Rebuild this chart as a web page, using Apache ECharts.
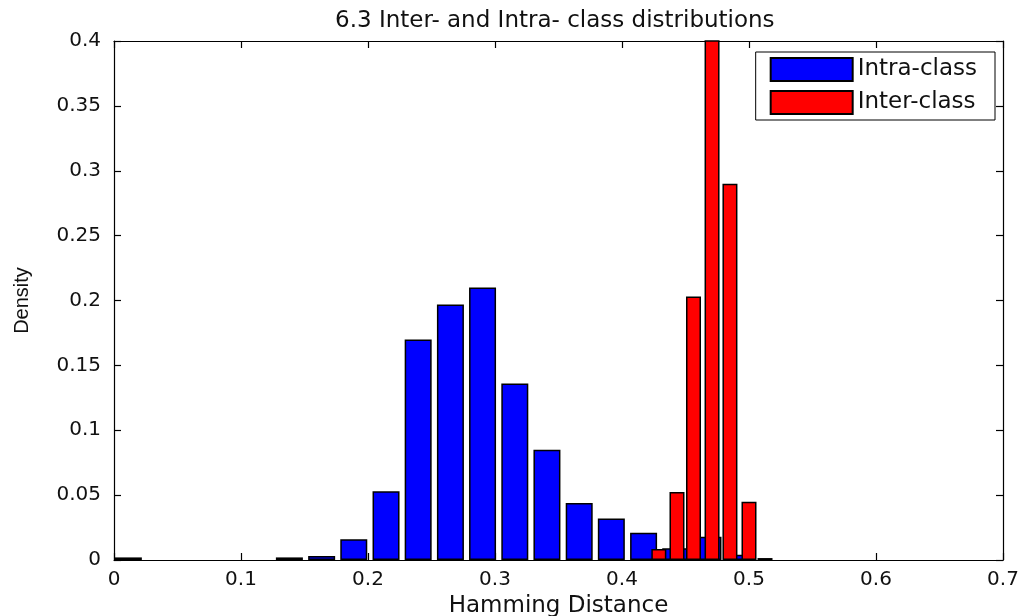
<!DOCTYPE html>
<html>
<head>
<meta charset="utf-8">
<script src="https://cdn.jsdelivr.net/npm/echarts@6/dist/echarts.min.js"></script>
<style>html,body{margin:0;padding:0;background:#fff}#c{width:1023px;height:616px}</style>
</head>
<body>
<div id="c"></div>
<script>
var titleText = '6.3 Inter- and Intra- class distributions';
var xName = 'Hamming Distance';
var yName = 'Density';
var seriesNames = ['Intra-class', 'Inter-class'];

// Intra-class histogram: bin centres and densities
var intraX = [0.0113, 0.1381, 0.1635, 0.1888, 0.2142, 0.2395, 0.2649, 0.2902, 0.3156, 0.3409, 0.3663, 0.3916, 0.4170, 0.4423, 0.4677, 0.4930];
var intraY = [0.002, 0.002, 0.003, 0.016, 0.053, 0.170, 0.197, 0.210, 0.136, 0.085, 0.044, 0.032, 0.021, 0.009, 0.018, 0.004];

// Inter-class histogram: bin centres and densities
var interX = [0.4290, 0.4433, 0.4563, 0.4709, 0.4850, 0.5000, 0.5126];
var interY = [0.0085, 0.0525, 0.203, 0.440, 0.290, 0.0448, 0.0015];

var xTicks = {min: 0, max: 0.7, interval: 0.1};
var yTicks = {min: 0, max: 0.4, interval: 0.05};

function pairs(xs, ys) { return xs.map(function (x, i) { return [x, ys[i]]; }); }

var chart = echarts.init(document.getElementById('c'), null, {renderer: 'canvas'});
var wideFont = 'DejaVu Sans, Verdana, sans-serif';
var tickFont = {fontFamily: wideFont, fontSize: 20, color: '#111'};
var lineStyle = {color: '#000', width: 1.2};

chart.setOption({
  animation: false,
  backgroundColor: '#fff',
  title: {
    text: titleText, left: 330, top: 5,
    textStyle: {fontFamily: wideFont, fontSize: 23, fontWeight: 'normal', color: '#111'}
  },
  grid: {left: 114, right: 20, top: 41, bottom: 56, containLabel: false, outerBoundsMode: 'none'},
  legend: {
    orient: 'vertical', right: 28, top: 52,
    data: seriesNames,
    icon: 'rect',
    itemWidth: 82, itemHeight: 23, itemGap: 8,
    padding: [5, 18, 5, 14],
    borderColor: '#000', borderWidth: 1, backgroundColor: '#fff',
    textStyle: {fontFamily: wideFont, fontSize: 23, color: '#111'}
  },
  xAxis: [
    {type: 'value', min: xTicks.min, max: xTicks.max, interval: xTicks.interval, position: 'bottom',
     name: xName, nameLocation: 'middle', nameGap: 29,
     nameTextStyle: {fontFamily: wideFont, fontSize: 23, color: '#111'},
     axisLine: {show: true, lineStyle: lineStyle}, axisTick: {show: true, inside: true, length: 7, lineStyle: lineStyle},
     axisLabel: Object.assign({margin: 10}, tickFont), splitLine: {show: false}},
    {type: 'value', min: xTicks.min, max: xTicks.max, interval: xTicks.interval, position: 'top',
     axisLine: {show: true, onZero: false, lineStyle: lineStyle}, axisTick: {show: true, inside: true, length: 7, lineStyle: lineStyle},
     axisLabel: {show: false}, splitLine: {show: false}}
  ],
  yAxis: [
    {type: 'value', min: yTicks.min, max: yTicks.max, interval: yTicks.interval, position: 'left',
     name: yName, nameLocation: 'middle', nameGap: 82, nameRotate: 90,
     nameTextStyle: {fontFamily: 'Liberation Sans, Arial, sans-serif', fontSize: 20, color: '#111'},
     axisLine: {show: true, lineStyle: lineStyle}, axisTick: {show: true, inside: true, length: 7, lineStyle: lineStyle},
     axisLabel: Object.assign({margin: 13}, tickFont), splitLine: {show: false}},
    {type: 'value', min: yTicks.min, max: yTicks.max, interval: yTicks.interval, position: 'right',
     axisLine: {show: true, onZero: false, lineStyle: lineStyle}, axisTick: {show: true, inside: true, length: 7, lineStyle: lineStyle},
     axisLabel: {show: false}, splitLine: {show: false}}
  ],
  series: [
    {name: seriesNames[0], type: 'bar', xAxisIndex: 0, yAxisIndex: 0, barWidth: 27, clip: true,
     itemStyle: {color: '#0000ff', borderColor: '#000', borderWidth: 1.5},
     data: pairs(intraX, intraY), z: 2},
    {name: seriesNames[1], type: 'bar', xAxisIndex: 1, yAxisIndex: 1, barWidth: 15, clip: true,
     itemStyle: {color: '#ff0000', borderColor: '#000', borderWidth: 1.5},
     data: pairs(interX, interY), z: 3}
  ]
});
</script>
</body>
</html>
